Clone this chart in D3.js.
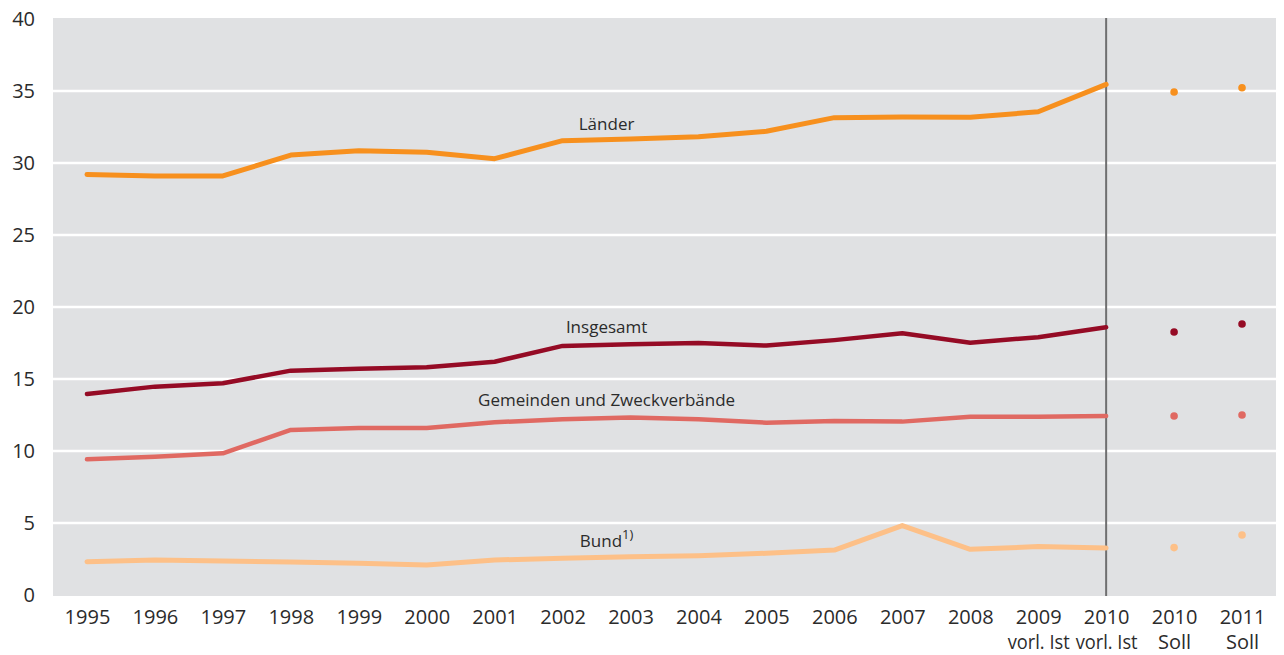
<!DOCTYPE html>
<html>
<head>
<meta charset="utf-8">
<script src="https://cdn.jsdelivr.net/npm/d3@7"></script>
<style>
  body { margin: 0; background: #fff; }
  text { font-family: "Open Sans", "Noto Sans", sans-serif; fill: #2b2b2b; }
</style>
</head>
<body>
<div id="chart"></div>
<script>
var svgWidth = 1284;
var svgHeight = 655;

// Categories (x axis), two label lines
var years = ["1995", "1996", "1997", "1998", "1999", "2000", "2001", "2002", "2003",
  "2004", "2005", "2006", "2007", "2008", "2009", "2010", "2010", "2011"];
var subLabels = ["", "", "", "", "", "", "", "", "", "", "", "", "", "",
  "vorl. Ist", "vorl. Ist", "Soll", "Soll"];

// Series values (last two = Soll, drawn as dots)
var laender = [29.2, 29.1, 29.1, 30.55, 30.85, 30.75, 30.3, 31.55, 31.67, 31.83,
  32.2, 33.15, 33.2, 33.17, 33.56, 35.46, 34.93, 35.23];
var insgesamt = [13.96, 14.47, 14.7, 15.58, 15.72, 15.82, 16.2, 17.3, 17.42, 17.5,
  17.32, 17.7, 18.17, 17.52, 17.9, 18.59, 18.26, 18.82];
var gemeinden = [9.42, 9.6, 9.84, 11.46, 11.6, 11.6, 12.0, 12.2, 12.33, 12.2,
  11.97, 12.08, 12.04, 12.38, 12.38, 12.43, 12.43, 12.5];
var bund = [2.31, 2.43, 2.36, 2.29, 2.2, 2.08, 2.43, 2.55, 2.66, 2.73,
  2.9, 3.12, 4.82, 3.17, 3.36, 3.26, 3.29, 4.17];

var yTicks = [0, 5, 10, 15, 20, 25, 30, 35, 40];

var series = [
  { name: "Bund", values: bund, color: "#FDC088", width: 5, label: "Bund", sup: "1)", ly: 547 },
  { name: "Gemeinden", values: gemeinden, color: "#E06962", width: 4.5, label: "Gemeinden und Zweckverbände", ly: 406 },
  { name: "Insgesamt", values: insgesamt, color: "#950B25", width: 4.5, label: "Insgesamt", ly: 333 },
  { name: "Laender", values: laender, color: "#F7901E", width: 5, label: "Länder", ly: 130 }
];

var plot = { left: 53, right: 1276, top: 19, bottom: 595 };
var lastActual = 15;

var svg = d3.select("#chart")
  .append("svg")
  .attr("width", svgWidth)
  .attr("height", svgHeight);

var x = d3.scalePoint()
  .domain(d3.range(years.length))
  .range([plot.left, plot.right])
  .padding(0.5);

var y = d3.scaleLinear()
  .domain([0, 40])
  .range([plot.bottom, plot.top]);

// background
svg.append("rect")
  .attr("x", plot.left)
  .attr("y", plot.top - 1)
  .attr("width", plot.right - plot.left)
  .attr("height", plot.bottom - plot.top + 2)
  .attr("fill", "#E0E1E3");

// gridlines
svg.append("g").selectAll("line")
  .data(yTicks.filter(d => d > 0 && d < 40))
  .enter()
  .append("line")
  .attr("x1", plot.left)
  .attr("x2", plot.right)
  .attr("y1", d => y(d))
  .attr("y2", d => y(d))
  .attr("stroke", "#fff")
  .attr("stroke-width", 2.5);

// y axis labels
var leftAxis = d3.axisLeft(y).tickValues(yTicks).tickSize(0).tickPadding(0);
var yAxis = svg.append("g")
  .attr("transform", "translate(35,0)")
  .call(leftAxis);
yAxis.select(".domain").remove();
yAxis.selectAll("text")
  .attr("font-size", 20)
  .attr("dy", "0.33em")
  .attr("fill", "#2b2b2b")
  .style("font-family", "'Open Sans', sans-serif");

// x axis labels
var bottomAxis = d3.axisBottom(x).tickFormat(i => years[i]).tickSize(0).tickPadding(0);
var xAxis = svg.append("g")
  .attr("transform", "translate(0," + plot.bottom + ")")
  .call(bottomAxis);
xAxis.select(".domain").remove();
xAxis.selectAll("text")
  .attr("font-size", 20)
  .attr("y", 29)
  .attr("dy", 0)
  .attr("fill", "#2b2b2b")
  .style("font-family", "'Open Sans', sans-serif");
xAxis.selectAll(".tick")
  .filter(i => subLabels[i] !== "")
  .append("text")
  .attr("font-size", 20)
  .attr("y", 54)
  .attr("text-anchor", "middle")
  .attr("fill", "#2b2b2b")
  .style("font-family", "'Open Sans', sans-serif")
  .attr("textLength", i => subLabels[i] === "Soll" ? null : 62)
  .attr("lengthAdjust", "spacingAndGlyphs")
  .text(i => subLabels[i]);

// separator between Ist and Soll
svg.append("line")
  .attr("x1", x(lastActual))
  .attr("x2", x(lastActual))
  .attr("y1", plot.top - 1)
  .attr("y2", plot.bottom + 1)
  .attr("stroke", "#6f6f70")
  .attr("stroke-width", 2);

var line = d3.line()
  .x((d, i) => x(i))
  .y(d => y(d));

series.forEach(function(s) {
  svg.append("path")
    .datum(s.values.slice(0, lastActual + 1))
    .attr("d", line)
    .attr("fill", "none")
    .attr("stroke", s.color)
    .attr("stroke-width", s.width)
    .attr("stroke-linejoin", "round")
    .attr("stroke-linecap", "round");

  svg.append("g").selectAll("circle")
    .data(s.values.slice(lastActual + 1))
    .enter()
    .append("circle")
    .attr("cx", (d, i) => x(lastActual + 1 + i))
    .attr("cy", d => y(d))
    .attr("r", 3.8)
    .attr("fill", s.color);

  // series label, centred just right of 2002
  var t = svg.append("text")
    .attr("x", x(7) + 44)
    .attr("y", s.ly)
    .attr("text-anchor", "middle")
    .attr("font-size", 17)
    .text(s.label);
  if (s.sup) {
    t.append("tspan")
      .attr("dy", -8)
      .attr("font-size", 13)
      .text(s.sup);
  }
});
</script>
</body>
</html>
